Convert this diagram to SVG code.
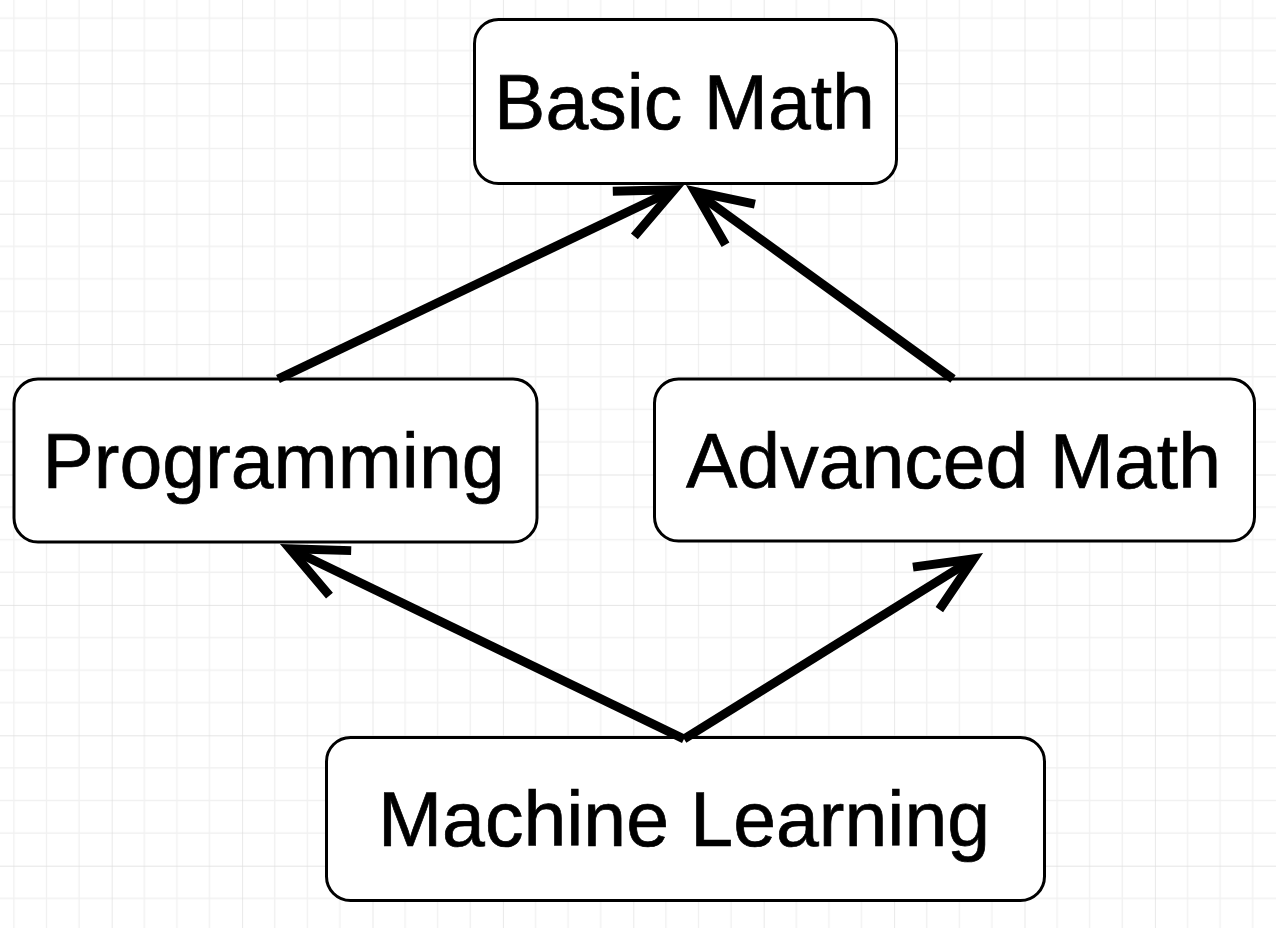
<svg xmlns="http://www.w3.org/2000/svg" width="1276" height="928" viewBox="0 0 1276 928">
<style>
.node rect{fill:#ffffff;stroke:#000000;stroke-width:3}
.node text{font-family:"Liberation Sans",Arial,Helvetica,sans-serif;font-size:77px;fill:#000000;stroke:#000000;stroke-width:0.7;text-anchor:middle}
.edge{fill:none;stroke:#000000;stroke-width:9;stroke-linecap:butt;marker-end:url(#open)}
</style>
<defs>
<pattern id="grid" patternUnits="userSpaceOnUse" x="111.7" y="83.3" width="130.4" height="130.4">
<path d="M32.6,0V130.4M65.2,0V130.4M97.8,0V130.4M0,32.6H130.4M0,65.2H130.4M0,97.8H130.4" stroke="#f1f1f1" stroke-width="1.3" fill="none"/>
<path d="M0,0V130.4M0,0H130.4" stroke="#dddddd" stroke-width="1.3" fill="none"/>
</pattern>
<marker id="open" markerUnits="userSpaceOnUse" viewBox="-70 -35 80 70" refX="0" refY="0" markerWidth="80" markerHeight="70" orient="auto" overflow="visible">
<path d="M-56,-25L0,0L-56,25" fill="none" stroke="#000000" stroke-width="9" stroke-linejoin="miter" stroke-miterlimit="10"/>
</marker>
</defs>
<rect x="0" y="0" width="1276" height="928" fill="#ffffff"/>
<rect x="0" y="0" width="1276" height="928" fill="url(#grid)"/>
<g id="node-basic-math" class="node">
<rect x="474.5" y="19.5" width="422" height="164" rx="24" ry="24"/>
<text x="684.5" y="128.5">Basic Math</text>
</g>
<g id="node-programming" class="node">
<rect x="14" y="379" width="523" height="163" rx="24" ry="24"/>
<text x="273.5" y="488">Programming</text>
</g>
<g id="node-advanced-math" class="node">
<rect x="654.5" y="379" width="600" height="162" rx="24" ry="24"/>
<text x="953.5" y="488">Advanced Math</text>
</g>
<g id="node-machine-learning" class="node">
<rect x="326.5" y="737.5" width="718" height="163" rx="24" ry="24"/>
<text x="684" y="846">Machine Learning</text>
</g>
<g id="connectors">
<path class="edge" d="M278,379L674.1,189.7"/>
<path class="edge" d="M953,379L694.9,191.5"/>
<path class="edge" d="M684,739L289.9,548.8"/>
<path class="edge" d="M684,739L973.7,558.8"/>
</g>
</svg>
